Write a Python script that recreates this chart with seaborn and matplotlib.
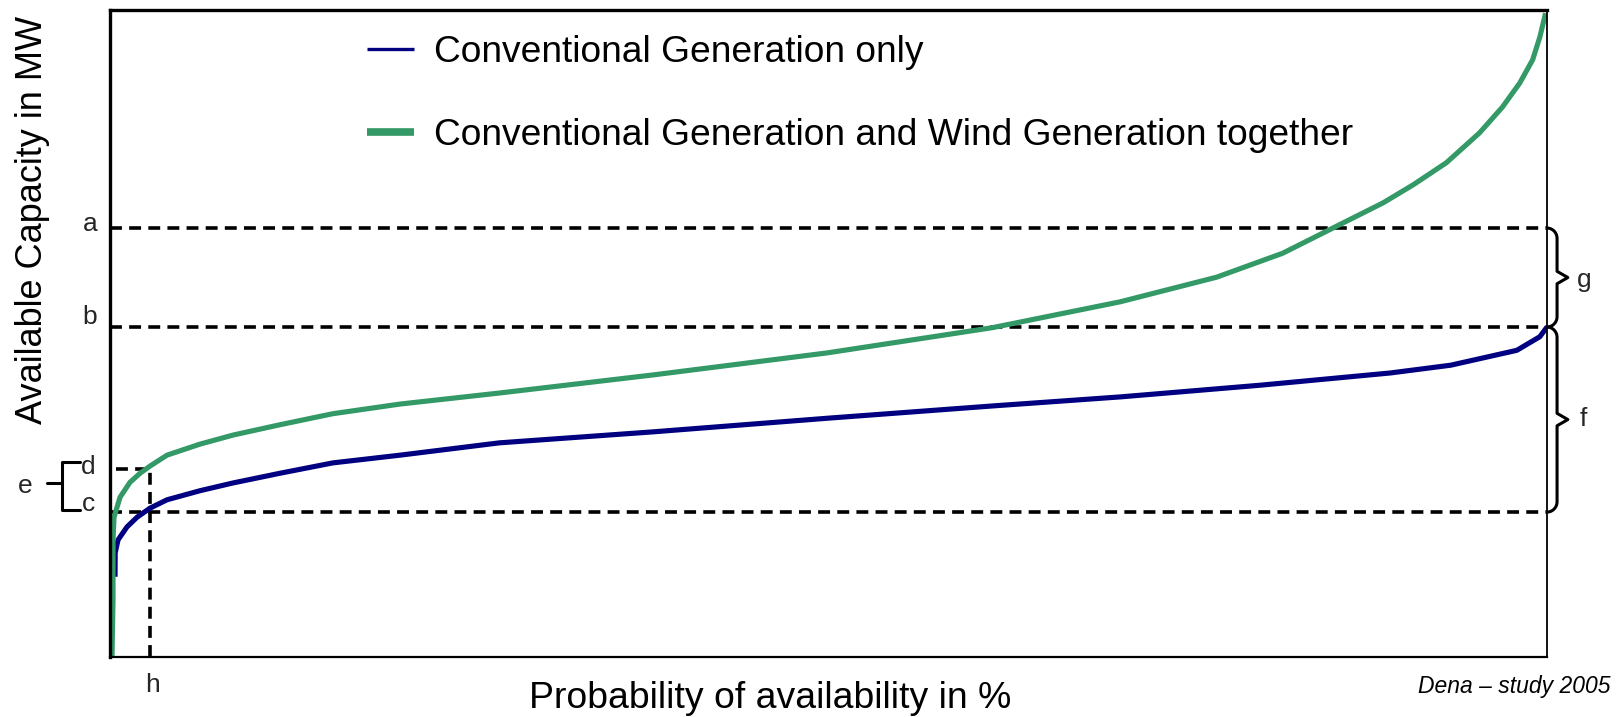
import numpy as np
import pandas as pd
import matplotlib
matplotlib.use("Agg")
import matplotlib.pyplot as plt
import seaborn as sns

sns.set_style("white")
plt.rcParams['font.family'] = ['Liberation Sans', 'DejaVu Sans']
plt.rcParams['text.color'] = 'black'

# ---------------------------------------------------------------------------
# Data (x: probability in %, y: capacity, arbitrary)
# ---------------------------------------------------------------------------
conv_prob = [0.35, 0.36, 0.56, 1.18, 1.88, 2.78, 3.97, 6.26, 8.56, 11.83,
             15.5, 20.2, 27.1, 37.8, 49.9, 61.4, 70.3, 80.0, 89.1, 93.3,
             97.9, 99.5, 100.0]
conv_cap = [12.4, 16.1, 18.1, 20.1, 21.6, 23.0, 24.3, 25.7, 26.9, 28.4,
            30.0, 31.2, 33.1, 34.8, 36.9, 38.8, 40.2, 42.0, 43.9, 45.1,
            47.4, 49.5, 51.0]

wind_prob = [0.14, 0.21, 0.21, 0.28, 0.70, 1.39, 2.09, 2.78, 3.97, 6.26,
             8.56, 11.83, 15.5, 20.2, 27.1, 37.8, 49.9, 61.4, 70.3, 77.0,
             81.6, 85.1, 88.6, 90.7, 93.0, 95.3, 96.9, 98.1, 99.0, 99.5, 99.9]
wind_cap = [0.0, 8.8, 18.1, 21.6, 24.7, 27.0, 28.4, 29.5, 31.2, 32.9,
            34.3, 35.9, 37.6, 39.1, 40.8, 43.6, 47.0, 50.9, 54.9, 58.7,
            62.4, 66.3, 70.2, 73.0, 76.4, 81.0, 85.0, 88.7, 92.3, 95.8, 99.5]

series_names = ["Conventional Generation only",
                "Conventional Generation and Wind Generation together"]
colors = ["#000080", "#339966"]

# reference levels
level_a = 66.3
level_b = 51.0
level_c = 22.4
level_d = 29.1
level_h = 2.78

df = pd.concat([
    pd.DataFrame({'prob': conv_prob, 'cap': conv_cap, 'series': series_names[0]}),
    pd.DataFrame({'prob': wind_prob, 'cap': wind_cap, 'series': series_names[1]}),
])

fig = plt.figure(figsize=(16.22, 7.17), dpi=100)
ax = fig.add_axes([110 / 1622, 1 - 657 / 717, 1437 / 1622, 647 / 717])

sns.lineplot(data=df, x='prob', y='cap', hue='series', palette=colors,
             estimator=None, sort=False, linewidth=3.7, ax=ax,
             solid_joinstyle='round', solid_capstyle='butt')

ax.set_xlim(0, 100)
ax.set_ylim(0, 100)
ax.set_xticks([])
ax.set_yticks([])
ax.set_xlabel('')
ax.set_ylabel('')

for side, lw in [('left', 2.4), ('top', 2.4), ('bottom', 1.6), ('right', 1.3)]:
    ax.spines[side].set_visible(True)
    ax.spines[side].set_color('black')
    ax.spines[side].set_linewidth(lw)

# dashed guide lines
dash = dict(color='black', lw=2.6, linestyle=(0, (3.3, 2.0)), zorder=1)
ax.plot([0, 100], [level_a, level_a], **dash)
ax.plot([0, 100], [level_b, level_b], **dash)
ax.plot([0, 100], [level_c, level_c], **dash)
ax.plot([0.4, level_h], [level_d, level_d], **dash)
ax.plot([level_h, level_h], [0, level_d], **dash)


def brace(ax, x0, x1, xt, y_top, y_bot, n=12):
    # simple curly brace from (x0,y_top) to (x0,y_bot), tip at xt
    ym = (y_top + y_bot) / 2
    r = min(1.6, (y_top - y_bot) / 6)
    t = np.linspace(0, np.pi / 2, n)
    xs, ys = [], []
    xs += list(x0 + (x1 - x0) * np.sin(t)); ys += list(y_top - r * (1 - np.cos(t)))
    xs += [x1, x1]; ys += [y_top - r, ym + r * 0.6]
    xs += [xt, x1]; ys += [ym, ym - r * 0.6]
    xs += [x1]; ys += [y_bot + r]
    xs += list(x0 + (x1 - x0) * np.cos(t)); ys += list(y_bot + r * (1 - np.sin(t)))
    ax.plot(xs, ys, color='black', lw=2.2, clip_on=False, solid_capstyle='butt')


brace(ax, 100.0, 100.7, 101.45, level_a, level_b)
brace(ax, 100.0, 100.7, 101.45, level_b, level_c)

# left bracket for e
ax.plot([-2.09, -3.34, -3.34, -2.09], [30.1, 30.1, 22.7, 22.7],
        color='black', lw=2.2, clip_on=False)
ax.plot([-4.4, -3.34], [26.9, 26.9], color='black', lw=2.2, clip_on=False)

lab = dict(fontsize=19, color='#262626', ha='center', va='center')
ax.text(-1.4, 67.0, 'a', **lab)
ax.text(-1.4, 52.5, 'b', **lab)
ax.text(-1.5, 29.4, 'd', **lab)
ax.text(-1.5, 23.6, 'c', **lab)
ax.text(-5.9, 26.5, 'e', **lab)
ax.text(102.6, 58.3, 'g', **lab)
ax.text(102.5, 36.8, 'f', **lab)
ax.text(2.95, -4.4, 'h', **lab)

# legend
leg = ax.legend(loc='upper left', bbox_to_anchor=(0.179, 0.962), frameon=False,
                fontsize=26.7, labelspacing=1.3, handlelength=1.25,
                handletextpad=0.55, borderpad=0, borderaxespad=0, title=None)
leg.get_lines()[0].set_linewidth(2.4)
leg.get_lines()[1].set_linewidth(5.5)
for t in leg.get_texts():
    t.set_color('black')

fig.text(33 / 1622, 1 - 220 / 717, 'Available Capacity in MW', rotation=90,
         fontsize=26, ha='center', va='center')
fig.text(770 / 1622, 1 - 698 / 717, 'Probability of availability in %',
         fontsize=26.9, ha='center', va='center')
fig.text(1611 / 1622, 1 - 686 / 717, 'Dena \u2013 study 2005', style='italic',
         fontsize=16.5, ha='right', va='center')

fig.savefig('out.png', dpi=100)
